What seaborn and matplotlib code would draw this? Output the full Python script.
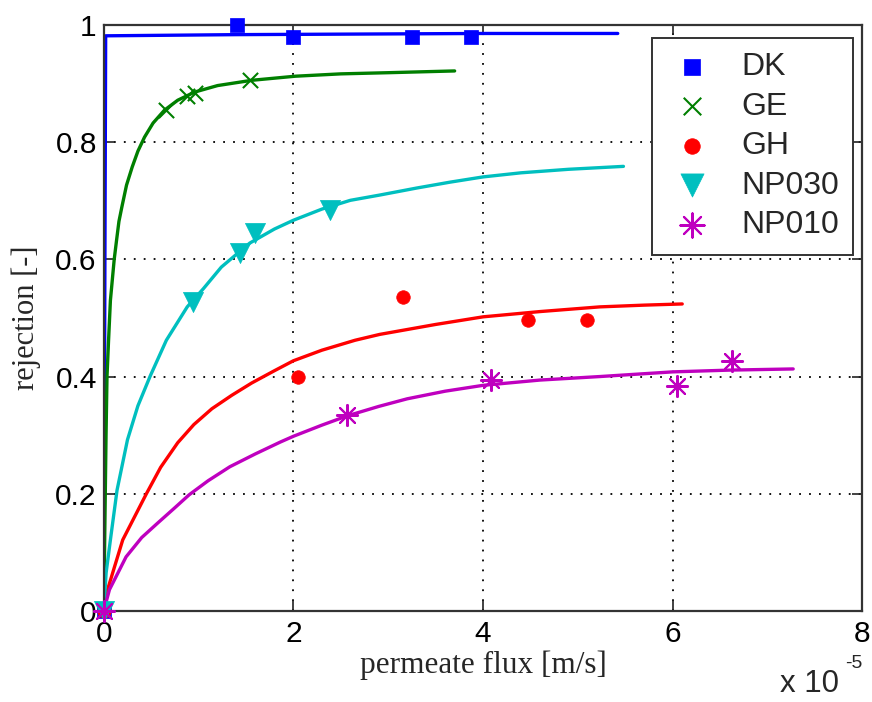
import pandas as pd
import seaborn as sns
import numpy as np
import matplotlib.pyplot as plt

# permeate flux in units of 1e-5 m/s, rejection [-]
# measured points
dk_x = [0, 1.41, 2.0, 3.25, 3.87]
dk_y = [0, 1.0, 0.98, 0.98, 0.98]
ge_x = [0, 0.66, 0.88, 0.96, 1.54]
ge_y = [0, 0.855, 0.88, 0.884, 0.906]
gh_x = [0, 2.05, 3.16, 4.47, 5.10]
gh_y = [0, 0.399, 0.536, 0.497, 0.497]
np030_x = [0, 0.94, 1.44, 1.59, 2.39]
np030_y = [0, 0.527, 0.611, 0.645, 0.684]
np010_x = [0, 2.56, 4.08, 6.05, 6.62]
np010_y = [0, 0.334, 0.394, 0.384, 0.427]

# fitted curves
dk_fit_x = [0, 0.01, 0.02, 1.4, 2.7, 4.0, 5.42]
dk_fit_y = [0, 0.5, 0.982, 0.984, 0.985, 0.986, 0.986]
ge_fit_x = [0, 0.012, 0.024, 0.034, 0.05, 0.07, 0.11, 0.135, 0.16, 0.19, 0.24, 0.30, 0.36,
            0.43, 0.52, 0.64, 0.78, 0.96, 1.2, 1.56, 2.02, 2.5, 3.0, 3.70]
ge_fit_y = [0, 0.15, 0.30, 0.40, 0.46, 0.53, 0.60, 0.633, 0.665, 0.689, 0.727, 0.758, 0.785,
            0.809, 0.833, 0.855, 0.872, 0.886, 0.897, 0.906, 0.913, 0.917, 0.919, 0.922]
gh_fit_x = [0, 0.04, 0.2, 0.45, 0.6, 0.78, 0.95, 1.14, 1.35, 1.56, 1.8, 2.0, 2.3, 2.65, 2.91,
            3.5, 4.0, 4.6, 5.23, 5.7, 6.1]
gh_fit_y = [0, 0.036, 0.121, 0.2, 0.245, 0.287, 0.318, 0.345, 0.368, 0.389, 0.41, 0.427, 0.445,
            0.462, 0.472, 0.489, 0.502, 0.511, 0.519, 0.522, 0.524]
np030_fit_x = [0, 0.025, 0.07, 0.14, 0.25, 0.36, 0.49, 0.66, 0.88, 1.05, 1.24, 1.54, 1.8, 2.0,
               2.3, 2.6, 2.91, 3.3, 3.65, 4.0, 4.4, 4.9, 5.48]
np030_fit_y = [0, 0.065, 0.121, 0.206, 0.292, 0.35, 0.401, 0.462, 0.519, 0.55, 0.587, 0.628,
               0.652, 0.667, 0.686, 0.701, 0.71, 0.722, 0.732, 0.741, 0.748, 0.754, 0.759]
np010_fit_x = [0, 0.06, 0.235, 0.4, 0.57, 0.75, 0.9, 1.1, 1.33, 1.6, 1.86, 2.0, 2.3, 2.57, 2.9,
               3.2, 3.6, 4.0, 4.6, 5.23, 6.0, 6.6, 7.27]
np010_fit_y = [0, 0.036, 0.092, 0.125, 0.150, 0.176, 0.198, 0.222, 0.246, 0.268, 0.288, 0.298,
               0.317, 0.333, 0.349, 0.362, 0.375, 0.385, 0.394, 0.40, 0.408, 0.411, 0.413]

names = ['DK', 'GE', 'GH', 'NP030', 'NP010']
points = {'DK': (dk_x, dk_y), 'GE': (ge_x, ge_y), 'GH': (gh_x, gh_y),
          'NP030': (np030_x, np030_y), 'NP010': (np010_x, np010_y)}
fits = {'DK': (dk_fit_x, dk_fit_y), 'GE': (ge_fit_x, ge_fit_y), 'GH': (gh_fit_x, gh_fit_y),
        'NP030': (np030_fit_x, np030_fit_y), 'NP010': (np010_fit_x, np010_fit_y)}

colors = {'DK': '#0000ff', 'GE': '#007f00', 'GH': '#ff0000', 'NP030': '#00bfbf', 'NP010': '#bf00bf'}
markers = {'DK': 's', 'GE': 'x', 'GH': 'o', 'NP030': 'v', 'NP010': (8, 2, 0)}
msizes = {'DK': 110, 'GE': 120, 'GH': 95, 'NP030': 210, 'NP010': 230}

sns.set_style('white')
plt.rcParams['font.family'] = ['Liberation Sans', 'DejaVu Sans']

fig = plt.figure(figsize=(8.72, 7.02), dpi=100)
ax = fig.add_axes([0.119, 0.130, 0.870, 0.834])

# curves first
for n in names:
    fx, fy = fits[n]
    sns.lineplot(x=fx, y=fy, ax=ax, color=colors[n], linewidth=2.4, sort=False,
                 estimator=None, legend=False)

handles = []
for n in names:
    px, py = points[n]
    df = pd.DataFrame({'flux': px, 'rejection': py})
    filled = n in ('DK', 'GH', 'NP030')
    if filled:
        sc = ax.scatter(df['flux'], df['rejection'], marker=markers[n], s=msizes[n],
                        color=colors[n], edgecolors=colors[n], linewidths=0.5,
                        zorder=5, clip_on=False, label=n)
    else:
        sc = ax.scatter(df['flux'], df['rejection'], marker=markers[n], s=msizes[n],
                        color=colors[n], linewidths=1.5, zorder=5, clip_on=False, label=n)
    handles.append(sc)

ax.set_xlim(0, 8)
ax.set_ylim(0, 1)
ax.set_xticks([0, 2, 4, 6, 8])
ax.set_yticks([0, 0.2, 0.4, 0.6, 0.8, 1])
ax.set_xticklabels(['0', '2', '4', '6', '8'])
ax.set_yticklabels(['0', '0.2', '0.4', '0.6', '0.8', '1'])
ax.tick_params(direction='in', length=7, width=1.2, labelsize=21.5, top=True, right=True,
               bottom=True, left=True, colors='#222222', labelcolor='black')
ax.tick_params(axis='x', pad=7)
ax.tick_params(axis='y', pad=5)
ax.grid(True, color='black', linestyle=(0, (1, 4.5)), linewidth=1.3)
for s in ax.spines.values():
    s.set_color('#333333')
    s.set_linewidth(1.6)

ax.set_xlabel('permeate flux [m/s]', family=['Liberation Serif'], fontsize=22.5)
ax.xaxis.set_label_coords(0.5, -0.068)
ax.set_ylabel('rejection [-]', family=['Liberation Serif'], fontsize=22, labelpad=10)

fig.text(0.8945, 0.014, 'x 10', fontsize=22.5, ha='left', va='baseline')
fig.text(0.969, 0.048, '-5', fontsize=14, ha='left', va='baseline')

leg = ax.legend(handles=handles, labels=names, loc='upper right', fontsize=23,
                frameon=True, fancybox=False, edgecolor='#333333', framealpha=1,
                borderpad=0.45, handletextpad=0.75, labelspacing=0.3, handlelength=1.6,
                markerscale=1.15, borderaxespad=0, bbox_to_anchor=(0.988, 0.979))
leg.get_frame().set_linewidth(1.4)

fig.savefig('out.png', dpi=100)
